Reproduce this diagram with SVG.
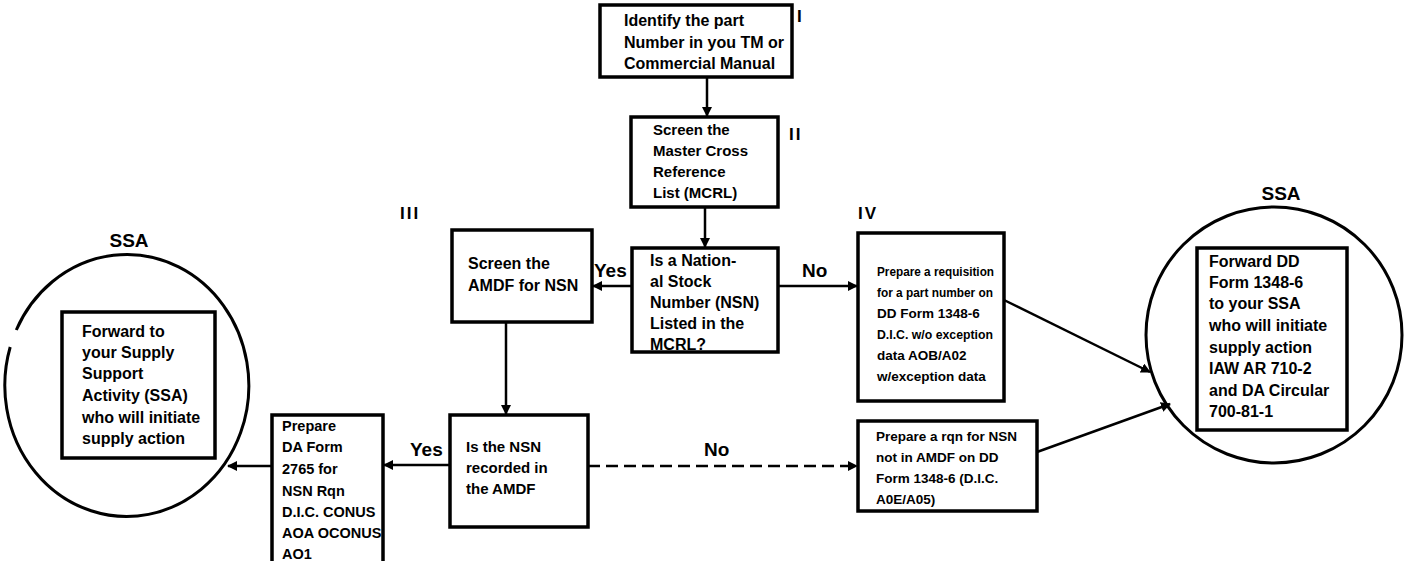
<svg xmlns="http://www.w3.org/2000/svg" width="1421" height="561" viewBox="0 0 1421 561">
<defs>
<style>
.box{fill:#fff;stroke:#000;stroke-width:3.5}
.circ{fill:none;stroke:#000;stroke-width:3}
.t{font-family:"Liberation Sans",Arial,sans-serif;font-weight:bold;font-size:15.5px;fill:#000}
.s13{font-size:13.5px}
.s14{font-size:13.5px}
.s15{font-size:15px}
.s145{font-size:14.5px}
.s16{font-size:16px}
.lbl{font-family:"Liberation Sans",Arial,sans-serif;font-weight:bold;font-size:19px;fill:#000}
.num{font-family:"Liberation Sans",Arial,sans-serif;font-weight:bold;font-size:17px;fill:#000;letter-spacing:2px}
.ln{fill:none;stroke:#000;stroke-width:2.5}
.dash{stroke-dasharray:12 6}
</style>
<marker id="ah" viewBox="0 0 10 10" refX="9" refY="5" markerWidth="4" markerHeight="4" orient="auto">
<path d="M0,0 L10,5 L0,10 z" fill="#000"/>
</marker>
</defs>
<rect width="1421" height="561" fill="#fff"/>

<g id="connectors">
<line class="ln" x1="707" y1="77" x2="707" y2="116" marker-end="url(#ah)"/>
<line class="ln" x1="705" y1="207" x2="705" y2="247" marker-end="url(#ah)"/>
<line class="ln" x1="632" y1="286" x2="593" y2="286" marker-end="url(#ah)"/>
<line class="ln" x1="778" y1="286" x2="857" y2="286" marker-end="url(#ah)"/>
<line class="ln" x1="506" y1="322" x2="506" y2="414" marker-end="url(#ah)"/>
<line class="ln" x1="450" y1="465" x2="384" y2="465" marker-end="url(#ah)"/>
<line class="ln dash" x1="588" y1="466" x2="857" y2="466" marker-end="url(#ah)"/>
<line class="ln" x1="272" y1="466" x2="228" y2="466" marker-end="url(#ah)"/>
<line class="ln" x1="1004" y1="300" x2="1150" y2="372" marker-end="url(#ah)"/>
<line class="ln" x1="1037" y1="452" x2="1170" y2="404" marker-end="url(#ah)"/>
<text class="lbl" x="594" y="277">Yes</text>
<text class="lbl" x="802" y="277">No</text>
<text class="lbl" x="410" y="456">Yes</text>
<text class="lbl" x="704" y="456">No</text>
</g>

<g id="node-I">
<rect class="box" x="600" y="5" width="192" height="72"/>
<g class="t s16">
<text x="624" y="26">Identify the part</text>
<text x="624" y="48">Number in you TM or</text>
<text x="624" y="69">Commercial Manual</text>
</g>
<text class="num" x="797" y="22">I</text>
</g>

<g id="node-II">
<rect class="box" x="631" y="117" width="147" height="90"/>
<g class="t s15">
<text x="653" y="135">Screen the</text>
<text x="653" y="156">Master Cross</text>
<text x="653" y="177">Reference</text>
<text x="653" y="198">List (MCRL)</text>
</g>
<text class="num" x="789" y="140">II</text>
</g>

<g id="node-decision1">
<rect class="box" x="632" y="248" width="146" height="104"/>
<g class="t s16">
<text x="650" y="266">Is a Nation-</text>
<text x="650" y="287">al Stock</text>
<text x="650" y="308">Number (NSN)</text>
<text x="650" y="329">Listed in the</text>
<text x="650" y="350">MCRL?</text>
</g>
</g>

<g id="node-III">
<rect class="box" x="452" y="230" width="140" height="92"/>
<g class="t s16">
<text x="468" y="269">Screen the</text>
<text x="468" y="291">AMDF for NSN</text>
</g>
<text class="num" x="400" y="219">III</text>
</g>

<g id="node-IV">
<rect class="box" x="858" y="233" width="146" height="168"/>
<g class="t s13">
<text x="877" y="276" textLength="117" lengthAdjust="spacingAndGlyphs">Prepare a requisition</text>
<text x="877" y="297" textLength="116" lengthAdjust="spacingAndGlyphs">for a part number on</text>
<text x="877" y="318">DD Form 1348-6</text>
<text x="877" y="339" textLength="116" lengthAdjust="spacingAndGlyphs">D.I.C. w/o exception</text>
<text x="877" y="360">data AOB/A02</text>
<text x="877" y="381">w/exception data</text>
</g>
<text class="num" x="858" y="219">IV</text>
</g>

<g id="node-ssa-right">
<circle class="circ" cx="1274" cy="335" r="128"/>
<rect class="box" x="1197" y="248" width="150" height="182"/>
<g class="t s16">
<text x="1209" y="267">Forward DD</text>
<text x="1209" y="288">Form 1348-6</text>
<text x="1209" y="309">to your SSA</text>
<text x="1209" y="331">who will  initiate</text>
<text x="1209" y="353">supply action</text>
<text x="1209" y="374">IAW AR 710-2</text>
<text x="1209" y="396">and DA Circular</text>
<text x="1209" y="417">700-81-1</text>
</g>
<text class="lbl" x="1281" y="200" text-anchor="middle">SSA</text>
</g>

<g id="node-rqn">
<rect class="box" x="858" y="421" width="179" height="90"/>
<g class="t s14">
<text x="876" y="441">Prepare a rqn for NSN</text>
<text x="876" y="462">not in AMDF on DD</text>
<text x="876" y="483">Form 1348-6 (D.I.C.</text>
<text x="876" y="504">A0E/A05)</text>
</g>
</g>

<g id="node-decision2">
<rect class="box" x="450" y="415" width="138" height="112"/>
<g class="t s15">
<text x="466" y="452">Is the NSN</text>
<text x="466" y="473">recorded in</text>
<text x="466" y="494">the AMDF</text>
</g>
</g>

<g id="node-daform">
<rect class="box" x="272" y="415" width="111" height="160"/>
<g class="t s145">
<text x="282" y="431">Prepare</text>
<text x="282" y="452">DA Form</text>
<text x="282" y="474">2765 for</text>
<text x="282" y="496">NSN Rqn</text>
<text x="282" y="517">D.I.C. CONUS</text>
<text x="282" y="538">AOA OCONUS</text>
<text x="282" y="559">AO1</text>
</g>
</g>

<g id="node-ssa-left">
<path class="circ" d="M16.3,330 A122,131 0 1 1 10.2,347"/>
<rect class="box" x="62" y="312" width="153" height="146"/>
<g class="t s16">
<text x="82" y="337">Forward to</text>
<text x="82" y="358">your Supply</text>
<text x="82" y="379">Support</text>
<text x="82" y="401">Activity (SSA)</text>
<text x="82" y="423">who will initiate</text>
<text x="82" y="444">supply action</text>
</g>
<text class="lbl" x="129" y="247" text-anchor="middle">SSA</text>
</g>
</svg>
